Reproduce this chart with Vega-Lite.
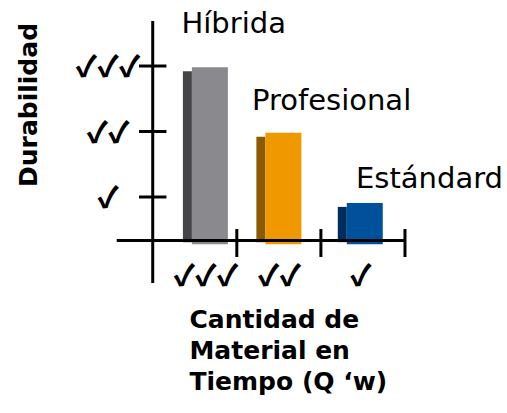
{
  "$schema": "https://vega.github.io/schema/vega-lite/v6.json",
  "width": 507,
  "height": 413,
  "padding": 0,
  "autosize": {"type": "none"},
  "background": "white",
  "config": {"view": {"stroke": null}},
  "datasets": {
    "barras": [
      {"categoria": "Híbrida", "centro": 0.68, "durabilidad": 2.98, "marcas": "✓✓✓"},
      {"categoria": "Profesional", "centro": 1.554, "durabilidad": 1.98, "marcas": "✓✓"},
      {"categoria": "Estándard", "centro": 2.522, "durabilidad": 0.91, "marcas": "✓"}
    ],
    "niveles": [
      {"nivel": 1, "marcas": "✓"},
      {"nivel": 2, "marcas": "✓✓"},
      {"nivel": 3, "marcas": "✓✓✓"}
    ],
    "etiquetas": [
      {"texto": "Híbrida", "px": 0.342, "py": 3.504},
      {"texto": "Profesional", "px": 1.181, "py": 2.328},
      {"texto": "Estándard", "px": 2.418, "py": 1.137}
    ],
    "uno": [{}]
  },
  "resolve": {"scale": {"color": "independent"}},
  "layer": [
    {
      "data": {"name": "barras"},
      "mark": {"type": "bar", "orient": "vertical", "size": 9, "xOffset": -22.5, "yOffset": 4, "y2Offset": -2},
      "encoding": {
        "x": {"field": "centro", "type": "quantitative", "scale": {"domain": [-1.757, 4.154], "nice": false, "zero": false}, "axis": null},
        "y": {"field": "durabilidad", "type": "quantitative", "scale": {"domain": [-2.298, 4.008], "nice": false, "zero": false}, "axis": null},
        "y2": {"datum": 0.28},
        "color": {"field": "categoria", "type": "nominal", "scale": {"domain": ["Híbrida", "Profesional", "Estándard"], "range": ["#454447", "#8c5a00", "#002d5e"]}, "legend": null}
      }
    },
    {
      "data": {"name": "barras"},
      "mark": {"type": "bar", "orient": "vertical", "size": 36},
      "encoding": {
        "x": {"field": "centro", "type": "quantitative", "scale": {"domain": [-1.757, 4.154], "nice": false, "zero": false}, "axis": null},
        "y": {"field": "durabilidad", "type": "quantitative", "scale": {"domain": [-2.298, 4.008], "nice": false, "zero": false}, "axis": null},
        "y2": {"datum": 0.28},
        "color": {"field": "categoria", "type": "nominal", "scale": {"domain": ["Híbrida", "Profesional", "Estándard"], "range": ["#8a898d", "#f09800", "#00519c"]}, "legend": null}
      }
    },
    {
      "data": {"name": "uno"},
      "mark": {"type": "rule", "strokeWidth": 3, "color": "#000000"},
      "encoding": {
        "x": {"datum": 0, "type": "quantitative", "scale": {"domain": [-1.757, 4.154], "nice": false, "zero": false}, "axis": null},
        "y": {"datum": 3.687, "type": "quantitative", "scale": {"domain": [-2.298, 4.008], "nice": false, "zero": false}, "axis": null},
        "y2": {"datum": -0.313}
      }
    },
    {
      "data": {"name": "uno"},
      "mark": {"type": "rule", "strokeWidth": 3, "color": "#000000"},
      "encoding": {
        "x": {"datum": -0.428, "type": "quantitative", "scale": {"domain": [-1.757, 4.154], "nice": false, "zero": false}, "axis": null},
        "x2": {"datum": 3.0},
        "y": {"datum": 0.336, "type": "quantitative", "scale": {"domain": [-2.298, 4.008], "nice": false, "zero": false}, "axis": null}
      }
    },
    {
      "data": {"name": "niveles"},
      "mark": {"type": "rule", "strokeWidth": 3, "color": "#000000"},
      "encoding": {
        "x": {"datum": -0.163, "type": "quantitative", "scale": {"domain": [-1.757, 4.154], "nice": false, "zero": false}, "axis": null},
        "x2": {"datum": 0.163},
        "y": {"field": "nivel", "type": "quantitative", "scale": {"domain": [-2.298, 4.008], "nice": false, "zero": false}, "axis": null}
      }
    },
    {
      "data": {"name": "niveles"},
      "mark": {"type": "rule", "strokeWidth": 3, "color": "#000000"},
      "encoding": {
        "x": {"field": "nivel", "type": "quantitative", "scale": {"domain": [-1.757, 4.154], "nice": false, "zero": false}, "axis": null},
        "y": {"datum": 0.511, "type": "quantitative", "scale": {"domain": [-2.298, 4.008], "nice": false, "zero": false}, "axis": null},
        "y2": {"datum": 0.084}
      }
    },
    {
      "data": {"name": "niveles"},
      "mark": {"type": "text", "font": "Noto Sans CJK JP", "fontWeight": 900, "fontSize": 29, "align": "center", "baseline": "middle", "color": "#000000", "dy": 2},
      "encoding": {
        "x": {"datum": -0.532, "type": "quantitative", "scale": {"domain": [-1.757, 4.154], "nice": false, "zero": false}, "axis": null},
        "y": {"field": "nivel", "type": "quantitative", "scale": {"domain": [-2.298, 4.008], "nice": false, "zero": false}, "axis": null},
        "text": {"field": "marcas"}
      }
    },
    {
      "data": {"name": "barras"},
      "mark": {"type": "text", "font": "Noto Sans CJK JP", "fontWeight": 900, "fontSize": 29, "align": "center", "baseline": "middle", "color": "#000000", "dx": -4, "dy": 2},
      "encoding": {
        "x": {"field": "centro", "type": "quantitative", "scale": {"domain": [-1.757, 4.154], "nice": false, "zero": false}, "axis": null},
        "y": {"datum": -0.19, "type": "quantitative", "scale": {"domain": [-2.298, 4.008], "nice": false, "zero": false}, "axis": null},
        "text": {"field": "marcas"}
      }
    },
    {
      "data": {"name": "etiquetas"},
      "mark": {"type": "text", "font": "DejaVu Sans", "fontSize": 29, "align": "left", "baseline": "alphabetic", "color": "#000000"},
      "encoding": {
        "x": {"field": "px", "type": "quantitative", "scale": {"domain": [-1.757, 4.154], "nice": false, "zero": false}, "axis": null},
        "y": {"field": "py", "type": "quantitative", "scale": {"domain": [-2.298, 4.008], "nice": false, "zero": false}, "axis": null},
        "text": {"field": "texto"}
      }
    },
    {
      "data": {"name": "uno"},
      "mark": {"type": "text", "font": "DejaVu Sans", "fontWeight": "bold", "fontSize": 25, "align": "center", "baseline": "middle", "angle": 270, "color": "#000000"},
      "encoding": {
        "x": {"datum": -1.47, "type": "quantitative", "scale": {"domain": [-1.757, 4.154], "nice": false, "zero": false}, "axis": null},
        "y": {"datum": 2.405, "type": "quantitative", "scale": {"domain": [-2.298, 4.008], "nice": false, "zero": false}, "axis": null},
        "text": {"value": "Durabilidad"}
      }
    },
    {
      "data": {"name": "uno"},
      "mark": {"type": "text", "font": "DejaVu Sans", "fontWeight": "bold", "fontSize": 25, "align": "left", "baseline": "alphabetic", "lineBreak": "\n", "lineHeight": 31, "color": "#000000"},
      "encoding": {
        "x": {"datum": 0.437, "type": "quantitative", "scale": {"domain": [-1.757, 4.154], "nice": false, "zero": false}, "axis": null},
        "y": {"datum": -1.0, "type": "quantitative", "scale": {"domain": [-2.298, 4.008], "nice": false, "zero": false}, "axis": null},
        "text": {"value": "Cantidad de\nMaterial en\nTiempo (Q ‘w)"}
      }
    }
  ]
}
